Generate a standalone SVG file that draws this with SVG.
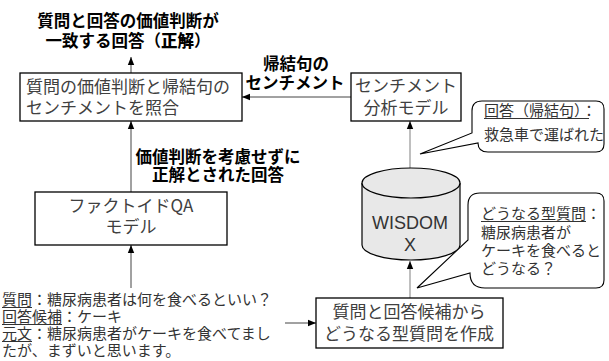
<svg xmlns="http://www.w3.org/2000/svg" width="609" height="361" viewBox="0 0 609 361">
<style>
text{font-family:"Noto Sans CJK JP","Noto Sans",sans-serif;}
.box{fill:#fff;stroke:#000;stroke-width:1.3;}
.bt{font-size:17px;fill:#404040;}
.lb{font-size:16.5px;font-weight:700;fill:#000;}
.sm{font-size:15px;fill:#333;}
.ln{stroke:#444;stroke-width:1;fill:none;}
.lg{stroke:#aaa;stroke-width:1.5;fill:none;}
.ul{stroke:#333;stroke-width:1;}
.call{fill:#fff;stroke:#000;stroke-width:1.1;}
</style>
<defs>
<marker id="ah" viewBox="0 0 8 8" refX="8" refY="4" markerWidth="8" markerHeight="8" markerUnits="userSpaceOnUse" orient="auto">
<path d="M0,0.8 L8,4 L0,7.2 Z" fill="#000"/>
</marker>
</defs>
<g id="connectors">
<line class="ln" x1="131" y1="73" x2="131" y2="57" marker-end="url(#ah)"/>
<line class="ln" x1="131" y1="192" x2="131" y2="121" marker-end="url(#ah)"/>
<line class="ln" x1="131" y1="288" x2="131" y2="245" marker-end="url(#ah)"/>
<line class="ln" x1="351" y1="97" x2="242" y2="97" marker-end="url(#ah)"/>
<line class="ln" x1="285" y1="323" x2="316" y2="323" marker-end="url(#ah)"/>
<line class="lg" x1="410" y1="298" x2="410" y2="261" marker-end="url(#ah)"/>
<line class="lg" x1="410" y1="168" x2="410" y2="121" marker-end="url(#ah)"/>
</g>
<g id="label-top">
<text class="lb" x="128" y="27" text-anchor="middle">質問と回答の価値判断が</text>
<text class="lb" x="128" y="47" text-anchor="middle">一致する回答（<tspan font-weight="900">正解</tspan>）</text>
</g>
<g id="label-sentiment">
<text class="lb" x="296" y="70" text-anchor="middle">帰結句の</text>
<text class="lb" x="295" y="89" text-anchor="middle">センチメント</text>
</g>
<g id="label-factoid">
<text class="lb" x="218" y="163" text-anchor="middle">価値判断を考慮せずに</text>
<text class="lb" x="218" y="181" text-anchor="middle">正解とされた回答</text>
</g>
<g id="node-compare">
<rect class="box" x="20" y="73" width="222" height="48"/>
<text class="bt" x="26" y="93">質問の価値判断と帰結句の</text>
<text class="bt" x="26" y="114">センチメントを照合</text>
</g>
<g id="node-sentiment">
<rect class="box" x="351" y="73" width="110" height="48"/>
<text class="bt" x="406" y="92" text-anchor="middle">センチメント</text>
<text class="bt" x="406" y="114" text-anchor="middle">分析モデル</text>
</g>
<g id="node-factoid">
<rect class="box" x="35" y="192" width="192" height="53"/>
<text class="bt" x="131" y="212" text-anchor="middle">ファクトイドQA</text>
<text class="bt" x="131" y="233" text-anchor="middle">モデル</text>
</g>
<g id="node-wisdom">
<path d="M362,183 V245 A49,15 0 0 0 460,245 V183" fill="#e8e8e8" stroke="#000" stroke-width="1.2"/>
<ellipse cx="411" cy="183" rx="49" ry="15" fill="#e8e8e8" stroke="#000" stroke-width="1.2"/>
<text x="410" y="229" text-anchor="middle" font-family="'Liberation Sans',Arial,sans-serif" font-size="18" fill="#333" style="font-family:'Liberation Sans',Arial,sans-serif">WISDOM</text>
<text x="410" y="251" text-anchor="middle" font-size="18" fill="#333" style="font-family:'Liberation Sans',Arial,sans-serif">X</text>
</g>
<g id="node-make-question">
<rect class="box" x="316" y="298" width="187" height="50"/>
<text class="bt" x="409" y="318" text-anchor="middle">質問と回答候補から</text>
<text class="bt" x="409" y="340" text-anchor="middle">どうなる型質問を作成</text>
</g>
<g id="node-input">
<text class="sm" x="2" y="305">質問：糖尿病患者は何を食べるといい？</text>
<line class="ul" x1="2" y1="307.5" x2="32" y2="307.5"/>
<text class="sm" x="2" y="322">回答候補：ケーキ</text>
<line class="ul" x1="2" y1="324.5" x2="62" y2="324.5"/>
<text class="sm" x="2" y="339">元文：糖尿病患者がケーキを食べてまし</text>
<line class="ul" x1="2" y1="341.5" x2="32" y2="341.5"/>
<text class="sm" x="2" y="356">たが、まずいと思います。</text>
</g>
<g id="callout-answer">
<path class="call" d="M482,101 H596 Q604,101 604,109 V144 Q604,152 596,152 H488 Q478,152 478,143 L420,154 L472,133 V111 Q472,101 482,101 Z"/>
<text class="sm" x="484" y="116">回答（帰結句）：</text>
<line class="ul" x1="484" y1="118.5" x2="589" y2="118.5"/>
<text class="sm" x="484" y="140">救急車で運ばれた</text>
</g>
<g id="callout-question">
<path class="call" d="M480,193 H596 Q604,193 604,201 V280 Q604,288 596,288 H485 Q470,288 470,273 L417,288 L468,240 V205 Q468,193 480,193 Z"/>
<text class="sm" x="481" y="219">どうなる型質問：</text>
<line class="ul" x1="481" y1="221.5" x2="586" y2="221.5"/>
<text class="sm" x="481" y="238">糖尿病患者が</text>
<text class="sm" x="481" y="256">ケーキを食べると</text>
<text class="sm" x="481" y="274">どうなる？</text>
</g>
</svg>
